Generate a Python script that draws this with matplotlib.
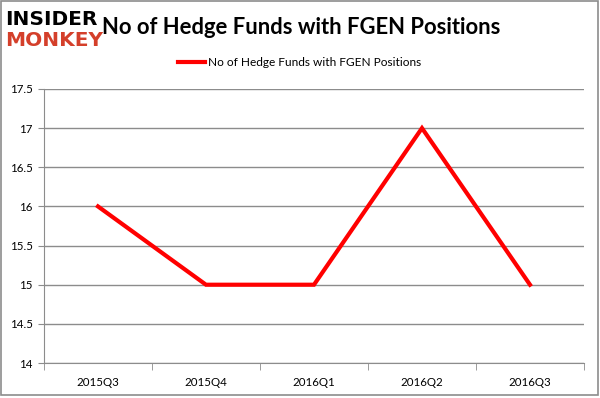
import matplotlib
matplotlib.use("Agg")
import matplotlib.pyplot as plt
from matplotlib.patches import Rectangle

quarters = ["2015Q3", "2015Q4", "2016Q1", "2016Q2", "2016Q3"]
hedge_funds = [16, 15, 15, 17, 15]
yticks = [14, 14.5, 15, 15.5, 16, 16.5, 17, 17.5]
series_name = "No of Hedge Funds with FGEN Positions"
title = "No of Hedge Funds with FGEN Positions"

plt.rcParams['font.family'] = ['Lato', 'DejaVu Sans']

fig = plt.figure(figsize=(6, 3.98), dpi=100)
fig.patches.append(Rectangle((0.002, 0.007), 0.994, 0.99, transform=fig.transFigure,
                             fill=False, edgecolor='#8c8c8c', linewidth=1.2))

ax = fig.add_axes([0.0733, 0.0879, 0.9, 0.6885])
x = list(range(len(quarters)))
line, = ax.plot(x, hedge_funds, color='#ff0000', linewidth=3, solid_joinstyle='miter')
ax.set_xlim(-0.5, len(quarters) - 0.5)
ax.set_ylim(14, 17.5)
ax.set_yticks(yticks)
ax.set_yticklabels([f"{v:g}" for v in yticks], fontsize=8.3)
ax.set_xticks(x)
ax.set_xticklabels(quarters, fontsize=8.3)
ax.set_xticks([i - 0.5 for i in range(len(quarters) + 1)], minor=True)
ax.tick_params(axis='x', which='major', length=0, pad=10)
ax.tick_params(axis='x', which='minor', length=5, color='#8c8c8c')
ax.tick_params(axis='y', length=4, color='#8c8c8c', pad=4)
ax.grid(axis='y', color='#8c8c8c', linewidth=1)
ax.set_axisbelow(True)
for s in ['top', 'right']:
    ax.spines[s].set_visible(False)
for s in ['left', 'bottom']:
    ax.spines[s].set_color('#8c8c8c')

fig.text(0.502, 0.932, title, fontsize=15.8, fontweight='bold', ha='center', va='center')
fig.text(0.008, 0.952, "INSIDER", fontsize=14.5, fontweight='heavy', color='black',
         ha='left', va='center', family='DejaVu Sans')
fig.text(0.008, 0.898, "MONKEY", fontsize=14.5, fontweight='heavy', color='#d43f2a',
         ha='left', va='center', family='DejaVu Sans')

fig.legend([line], [series_name], loc='center', bbox_to_anchor=(0.5, 0.843),
           frameon=False, fontsize=8.6, handlelength=2.2, handletextpad=0.3)

fig.savefig("out.png", dpi=100)
